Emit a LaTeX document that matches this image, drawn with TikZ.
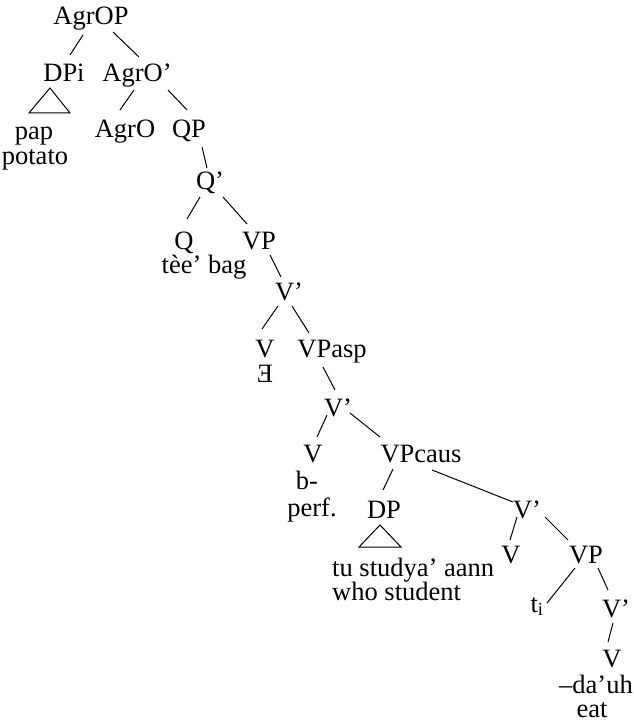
\documentclass[tikz,border=0pt]{standalone}
\usepackage{fontspec}
\setmainfont{Liberation Serif}
\begin{document}
\begin{tikzpicture}[x=1bp,y=-1bp,
  lab/.style={inner sep=0pt,anchor=base,font=\fontsize{26.5bp}{23bp}\selectfont},
  labl/.style={lab,anchor=base west},
  edge/.style={line width=1bp},
]
\useasboundingbox (0,0) rectangle (634,722);
% nodes (base points)
\node[lab] (AgrOP) at (91,25) {AgrOP};
\node[lab] (DPi) at (64,82) {DPi};
\node[lab] (AgrOb) at (137,82) {AgrO’};
\node[lab] (pap) at (34,140) {pap};
\node[lab] (potato) at (35,164) {potato};
\node[lab] (AgrO) at (125,138) {AgrO};
\node[lab] (QP) at (189,138) {QP};
\node[lab] (Qb) at (210,189) {Q’};
\node[lab] (Q) at (184,249) {Q};
\node[lab] (VPa) at (259,249) {VP};
\node[lab] (tee) at (204,273) {tèe’ bag};
\node[lab] (Vb1) at (289,300) {V’};
\node[lab] (V1) at (265,357) {V};
\node[lab] (VPasp) at (332,357) {VPasp};
\node[lab] (E) at (265,382) {Ǝ};
\node[lab] (Vb2) at (338,416) {V’};
\node[lab] (V2) at (313,462) {V};
\node[lab] (VPcaus) at (421,462) {VPcaus};
\node[lab] (bpre) at (307,489) {b-};
\node[lab] (perf) at (312,516) {perf.};
\node[lab] (DP) at (384,518) {DP};
\node[lab] (Vb3) at (527,518) {V’};
\node[labl] (tu) at (332,576) {tu studya’ aann};
\node[labl] (who) at (332,600) {who student};
\node[lab] (V3) at (511,563) {V};
\node[lab] (VPb) at (586,563) {VP};
\node[lab] (ti) at (537,612) {t\textsubscript{i}};
\node[lab] (Vb4) at (616,617) {V’};
\node[lab] (V4) at (612,667) {V};
\node[lab] (dauh) at (596,693) {–da’uh};
\node[lab] (eat) at (592,717) {eat};
% triangles
\draw[edge,line join=miter] ([shift={(-14,6)}]DPi.base) -- ([shift={(-35,31)}]DPi.base) -- ([shift={(6,31)}]DPi.base) -- cycle;
\draw[edge,line join=miter] ([shift={(-4,7)}]DP.base) -- ([shift={(-25,29)}]DP.base) -- ([shift={(17,29)}]DP.base) -- cycle;
% branches
\draw[edge] ([shift={(-8,10)}]AgrOP.base) -- ([shift={(6,-27)}]DPi.base);
\draw[edge] ([shift={(22,7)}]AgrOP.base) -- ([shift={(2,-25)}]AgrOb.base);
\draw[edge] ([shift={(-3,8)}]AgrOb.base) -- ([shift={(-5,-28)}]AgrO.base);
\draw[edge] ([shift={(31,8)}]AgrOb.base) -- ([shift={(-2,-28)}]QP.base);
\draw[edge] ([shift={(13,9)}]QP.base) -- ([shift={(-3,-21)}]Qb.base);
\draw[edge] ([shift={(-10,8)}]Qb.base) -- ([shift={(3,-30)}]Q.base);
\draw[edge] ([shift={(13,8)}]Qb.base) -- ([shift={(-12,-25)}]VPa.base);
\draw[edge] ([shift={(11,6)}]VPa.base) -- ([shift={(-8,-23)}]Vb1.base);
\draw[edge] ([shift={(-11,6)}]Vb1.base) -- ([shift={(-3,-28)}]V1.base);
\draw[edge] ([shift={(3,6)}]Vb1.base) -- ([shift={(-23,-24)}]VPasp.base);
\draw[edge] ([shift={(-9,10)}]VPasp.base) -- ([shift={(-3,-26)}]Vb2.base);
\draw[edge] ([shift={(-11,-1)}]Vb2.base) -- ([shift={(4,-25)}]V2.base);
\draw[edge] ([shift={(12,-3)}]Vb2.base) -- ([shift={(-41,-25)}]VPcaus.base);
\draw[edge] ([shift={(-28,7)}]VPcaus.base) -- ([shift={(-1,-28)}]DP.base);
\draw[edge] ([shift={(11,8)}]VPcaus.base) -- ([shift={(-14,-16)}]Vb3.base);
\draw[edge] ([shift={(-10,-1)}]Vb3.base) -- ([shift={(-1,-23)}]V3.base);
\draw[edge] ([shift={(18,-1)}]Vb3.base) -- ([shift={(-18,-23)}]VPb.base);
\draw[edge] ([shift={(-11,5)}]VPb.base) -- ([shift={(10,-9)}]ti.base);
\draw[edge] ([shift={(12,5)}]VPb.base) -- ([shift={(-8,-27)}]Vb4.base);
\draw[edge] ([shift={(-3,6)}]Vb4.base) -- ([shift={(-4,-25)}]V4.base);
\end{tikzpicture}
\end{document}
